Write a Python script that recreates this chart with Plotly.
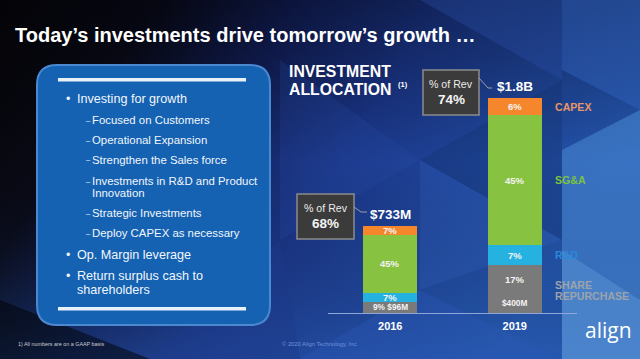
import plotly.graph_objects as go
from urllib.parse import quote

# ---------------- data ----------------
years = ["2016", "2019"]
share_repurchase = [96, 400]      # $M
rnd = [75, 170]                   # $M
sga = [485, 1085]                 # $M
capex = [77, 145]                 # $M
total_labels = ["$733M", "$1.8B"]
pct_of_rev = ["68%", "74%"]
capex_pct = ["7%", "6%"]
sga_pct = ["45%", "45%"]
rnd_pct = ["7%", "7%"]
share_pct = ["9%", "17%"]
share_amt = ["$96M", "$400M"]

panel_items = [
    ("main", "Investing for growth", 99),
    ("sub", "Focused on Customers", 120),
    ("sub", "Operational Expansion", 140),
    ("sub", "Strengthen the Sales force", 160),
    ("sub", "Investments in R&D and Product", 181),
    ("cont", "Innovation", 193),
    ("sub", "Strategic Investments", 213),
    ("sub", "Deploy CAPEX as necessary", 233),
    ("main", "Op. Margin leverage", 255),
    ("main", "Return surplus cash to", 276),
    ("cont_main", "shareholders", 290),
]

# ---------------- helpers ----------------
W, H = 640, 359
FONT = "Liberation Sans, Arial, sans-serif"
pos = list(range(len(years)))


def px(x):
    return x / W


def py(y):
    return 1 - y / H


colors = {
    "capex": "#f5862b",
    "sga": "#87c240",
    "rnd": "#25b2e0",
    "share": "#7a7a7a",
}

fig = go.Figure()
series = [
    ("SHARE REPURCHASE", share_repurchase, colors["share"]),
    ("R&D", rnd, colors["rnd"]),
    ("SG&A", sga, colors["sga"]),
    ("CAPEX", capex, colors["capex"]),
]
for name, vals, col in series:
    fig.add_trace(go.Bar(
        x=pos, y=vals, name=name, marker=dict(color=col, line=dict(width=0)),
        hoverinfo="skip", showlegend=False,
    ))

annotations = []
shapes = []

# ---------- background (svg image) ----------
svg = """<svg xmlns='http://www.w3.org/2000/svg' width='640' height='359' viewBox='0 0 640 359' preserveAspectRatio='none'>
<defs>
<linearGradient id='g' x1='0' y1='0' x2='1' y2='0.35'>
<stop offset='0' stop-color='#050507'/>
<stop offset='0.22' stop-color='#090a16'/>
<stop offset='0.42' stop-color='#12205a'/>
<stop offset='0.62' stop-color='#1b378a'/>
<stop offset='1' stop-color='#2456ad'/>
</linearGradient>
<linearGradient id='v' x1='0' y1='0' x2='0' y2='1'>
<stop offset='0' stop-color='#000008' stop-opacity='0.35'/>
<stop offset='0.45' stop-color='#000008' stop-opacity='0'/>
<stop offset='1' stop-color='#2a5cb0' stop-opacity='0.35'/>
</linearGradient>
</defs>
<rect width='640' height='359' fill='url(#g)'/>
<rect width='640' height='359' fill='url(#v)'/>
<polygon points='0,300 150,359 0,359' fill='#000000' opacity='0.5'/>
<polygon points='420,0 562,80 562,0' fill='#2a4fa8' opacity='0.35'/>
<polygon points='562,0 640,0 640,110 562,70' fill='#2f5fb8' opacity='0.5'/>
<polygon points='562,150 640,110 640,359 562,359' fill='#4a8ad4' opacity='0.55'/>
<polygon points='562,250 640,300 640,359 562,359' fill='#6aa4e0' opacity='0.35'/>
<polygon points='300,359 420,290 562,359' fill='#2a5ab8' opacity='0.35'/>
<polygon points='420,160 562,80 562,240' fill='#14306e' opacity='0.35'/>
<polygon points='420,160 562,240 420,290' fill='#3464c0' opacity='0.25'/>
<polygon points='280,60 420,160 280,240' fill='#2a50a8' opacity='0.2'/>
<polygon points='150,359 280,240 300,359' fill='#1c3a8a' opacity='0.45'/>
</svg>"""

# ---------- left panel ----------
def rrect(x0, y0, x1, y1, r):
    pts = [
        ("M", [(x0 + r, y0)]), ("L", [(x1 - r, y0)]), ("Q", [(x1, y0), (x1, y0 + r)]),
        ("L", [(x1, y1 - r)]), ("Q", [(x1, y1), (x1 - r, y1)]),
        ("L", [(x0 + r, y1)]), ("Q", [(x0, y1), (x0, y1 - r)]),
        ("L", [(x0, y0 + r)]), ("Q", [(x0, y0), (x0 + r, y0)]),
    ]
    s = ""
    for cmd, ps in pts:
        s += cmd + " " + " ".join(f"{px(a):.5f},{py(b):.5f}" for a, b in ps) + " "
    return s + "Z"


shapes.append(dict(type="path", xref="paper", yref="paper", path=rrect(37, 65, 270, 325, 20),
                   fillcolor="#1562b2", line=dict(color="#4a88d0", width=2), layer="below"))
for yb in (78, 307):
    shapes.append(dict(type="rect", xref="paper", yref="paper", x0=px(58), x1=px(246),
                       y0=py(yb), y1=py(yb + 3.5), fillcolor="#e8f0fa", line=dict(width=0)))

for kind, text, yy in panel_items:
    if kind in ("main", "cont_main"):
        if kind == "main":
            annotations.append(dict(xref="paper", yref="paper", x=px(64), y=py(yy), text="•",
                                    showarrow=False, xanchor="left", yanchor="middle",
                                    font=dict(family=FONT, size=12.5, color="#eef3fa")))
        annotations.append(dict(xref="paper", yref="paper", x=px(75), y=py(yy), text=text,
                                showarrow=False, xanchor="left", yanchor="middle",
                                font=dict(family=FONT, size=12.6, color="#f2f6fb")))
    else:
        if kind == "sub":
            annotations.append(dict(xref="paper", yref="paper", x=px(84), y=py(yy), text="–",
                                    showarrow=False, xanchor="left", yanchor="middle",
                                    font=dict(family=FONT, size=7.5, color="#eef3fa")))
        annotations.append(dict(xref="paper", yref="paper", x=px(90), y=py(yy), text=text,
                                showarrow=False, xanchor="left", yanchor="middle",
                                font=dict(family=FONT, size=11.4, color="#f2f6fb")))

# ---------- title & headings ----------
annotations.append(dict(xref="paper", yref="paper", x=px(13), y=py(35), text="Today’s investments drive tomorrow’s growth …",
                        showarrow=False, xanchor="left", yanchor="middle",
                        font=dict(family=FONT, size=20, color="white", weight="bold")))
annotations.append(dict(xref="paper", yref="paper", x=px(287), y=py(72), text="INVESTMENT",
                        showarrow=False, xanchor="left", yanchor="middle",
                        font=dict(family=FONT, size=15.8, color="white", weight="bold")))
annotations.append(dict(xref="paper", yref="paper", x=px(287), y=py(89), text="ALLOCATION",
                        showarrow=False, xanchor="left", yanchor="middle",
                        font=dict(family=FONT, size=15.8, color="white", weight="bold")))
annotations.append(dict(xref="paper", yref="paper", x=px(396), y=py(85), text="(1)",
                        showarrow=False, xanchor="left", yanchor="middle",
                        font=dict(family=FONT, size=7.5, color="white", weight="bold")))

# ---------- segment labels ----------
bottoms = [[0, 0], [0, 0], [0, 0], [0, 0]]
cum = [0, 0]
seg_vals = [share_repurchase, rnd, sga, capex]
for k, vals in enumerate(seg_vals):
    for i in range(2):
        bottoms[k][i] = cum[i]
        cum[i] += vals[i]


def mid(k, i):
    return bottoms[k][i] + seg_vals[k][i] / 2


lab_font = dict(family=FONT, size=9.5, color="#f4f4f4", weight="bold")
for i in pos:
    annotations.append(dict(x=i, y=mid(3, i), text=capex_pct[i], showarrow=False, font=lab_font))
    annotations.append(dict(x=i, y=mid(2, i), text=sga_pct[i], showarrow=False, font=lab_font))
    annotations.append(dict(x=i, y=mid(1, i), text=rnd_pct[i], showarrow=False, font=lab_font))
# share repurchase labels
annotations.append(dict(x=pos[0], y=mid(0, 0), text=f"{share_pct[0]} {share_amt[0]}", showarrow=False,
                        font=dict(family=FONT, size=8.3, color="#f4f4f4", weight="bold")))
annotations.append(dict(x=pos[1], y=mid(0, 1), text=share_pct[1], showarrow=False, yshift=10, font=lab_font))
annotations.append(dict(x=pos[1], y=mid(0, 1), text=share_amt[1], showarrow=False, yshift=-13.5,
                        font=dict(family=FONT, size=8.3, color="#f4f4f4", weight="bold")))

# totals
for i in pos:
    annotations.append(dict(x=i, y=cum[i], text=total_labels[i], showarrow=False, yanchor="bottom",
                            yshift=2, font=dict(family=FONT, size=13.5, color="white", weight="bold")))

# ---------- % of Rev callouts ----------
boxes = [(297, 194, 354, 239), (423, 70, 479, 115)]
connectors = [[(354, 207), (361, 212), (367, 212)], [(479, 78), (488, 88), (492, 88)]]
for i, (x0, y0, x1, y1) in enumerate(boxes):
    shapes.append(dict(type="rect", xref="paper", yref="paper", x0=px(x0), x1=px(x1), y0=py(y1), y1=py(y0),
                       fillcolor="#3b3b3b", line=dict(color="#8c8c8c", width=1.5)))
    c = connectors[i]
    path = "M " + " L ".join(f"{px(a):.5f},{py(b):.5f}" for a, b in c)
    shapes.append(dict(type="path", xref="paper", yref="paper", path=path,
                       line=dict(color="#a0a0a0", width=1)))
    cx = (x0 + x1) / 2
    annotations.append(dict(xref="paper", yref="paper", x=px(cx), y=py(y0 + 14), text="% of Rev",
                            showarrow=False, xanchor="center", yanchor="middle",
                            font=dict(family=FONT, size=10.6, color="#ececec")))
    annotations.append(dict(xref="paper", yref="paper", x=px(cx), y=py(y0 + 29.5), text=pct_of_rev[i],
                            showarrow=False, xanchor="center", yanchor="middle",
                            font=dict(family=FONT, size=13.5, color="#f4f4f4", weight="bold")))

# ---------- category labels on right ----------
right_labels = [
    (3, ["CAPEX"], "#e6956a"),
    (2, ["SG&A"], "#7cc242"),
    (1, ["R&D"], "#2a88dc"),
    (0, ["SHARE", "REPURCHASE"], "#9ea2ab"),
]
for k, lines, col in right_labels:
    if len(lines) == 1:
        annotations.append(dict(xref="paper", yref="y", x=px(553), y=mid(k, 1), text=lines[0], showarrow=False,
                                xanchor="left", font=dict(family=FONT, size=10.6, color=col, weight="bold")))
    else:
        annotations.append(dict(xref="paper", yref="y", x=px(553), y=mid(k, 1), text=lines[0], showarrow=False,
                                xanchor="left", yshift=4.5,
                                font=dict(family=FONT, size=10.6, color=col, weight="bold")))
        annotations.append(dict(xref="paper", yref="y", x=px(553), y=mid(k, 1), text=lines[1], showarrow=False,
                                xanchor="left", yshift=-7,
                                font=dict(family=FONT, size=10.6, color=col, weight="bold")))

# ---------- footer ----------
annotations.append(dict(xref="paper", yref="paper", x=px(16), y=py(349), text="1) All numbers are on a GAAP basis",
                        showarrow=False, xanchor="left", font=dict(family=FONT, size=5.4, color="#c9cad2")))
annotations.append(dict(xref="paper", yref="paper", x=px(320), y=py(349), text="© 2020 Align Technology, Inc.",
                        showarrow=False, xanchor="center", font=dict(family=FONT, size=5.8, color="#6f93d8")))
annotations.append(dict(xref="paper", yref="paper", x=px(608), y=py(346), text="align",
                        showarrow=False, xanchor="center", font=dict(family="Open Sans, sans-serif", size=21, color="white")))

fig.update_layout(
    width=W, height=H, autosize=False,
    margin=dict(l=0, r=0, t=0, b=0, pad=0, autoexpand=False),
    paper_bgcolor="#06060a", plot_bgcolor="rgba(0,0,0,0)",
    barmode="stack", bargap=0.566,
    xaxis=dict(type="linear", domain=[328 / W, 577 / W], range=[-0.5, len(years) - 0.5], autorange=False,
               tickvals=pos, ticktext=years, showline=True, linecolor="#8ea6d8", linewidth=1,
               showgrid=False, zeroline=False, ticks="", ticklabelstandoff=3, fixedrange=True, automargin=False,
               tickfont=dict(family=FONT, size=11, color="white", weight="bold")),
    yaxis=dict(domain=[(H - 313) / H, (H - 90) / H], range=[0, 1868], autorange=False, visible=False,
               fixedrange=True, automargin=False),
    images=[dict(source="data:image/svg+xml;charset=utf-8," + quote(svg), xref="paper", yref="paper",
                 x=0, y=1, sizex=1, sizey=1, sizing="stretch", xanchor="left", yanchor="top",
                 layer="below")],
    shapes=shapes, annotations=annotations,
)

fig.write_html("out.html", config={"displayModeBar": False},
               post_script="document.body.style.margin='0';document.body.style.overflow='hidden';")
